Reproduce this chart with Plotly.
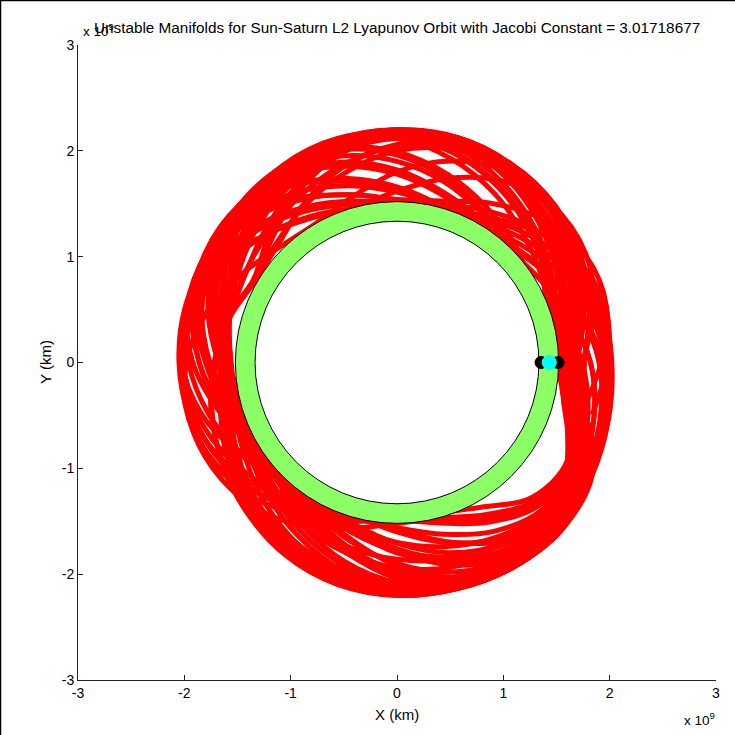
import numpy as np
import plotly.graph_objects as go

# ---------------- data (units of 1e9 km) ----------------
TITLE = "Unstable Manifolds for Sun-Saturn L2 Lyapunov Orbit with Jacobi Constant = 3.01718677"

# polar angle nodes (deg) along each manifold branch, leaving L2 clockwise
THETA_DEG = [0, -15, -30, -45, -60, -75, -90, -105, -120, -135, -150, -165,
             -180, -195, -210, -225, -240, -255, -270, -285, -300, -315,
             -330, -345, -360, -375, -390, -405, -420]

# radius of each manifold trajectory at the nodes above
TRAJ_R = [
    [1.51, 1.63, 1.85, 1.80, 1.58, 1.47, 1.46, 1.52, 1.64, 1.78, 1.90, 1.98, 2.02, 2.00, 1.92, 1.80, 1.66, 1.55, 1.48, 1.47, 1.54, 1.66, 1.80, 1.92, 1.98, 2.03, 2.10, 2.16, 2.19],
    [1.51, 1.65, 1.87, 1.90, 1.74, 1.57, 1.48, 1.47, 1.55, 1.68, 1.82, 1.94, 2.01, 2.04, 2.01, 1.92, 1.78, 1.64, 1.53, 1.47, 1.50, 1.60, 1.74, 1.87, 1.96, 2.02, 2.09, 2.14],
    [1.51, 1.67, 1.90, 1.99, 1.92, 1.76, 1.60, 1.50, 1.48, 1.56, 1.70, 1.84, 1.96, 2.04, 2.07, 2.04, 1.94, 1.80, 1.66, 1.54, 1.46, 1.53, 1.64, 1.78, 1.90, 1.98, 2.06],
    [1.51, 1.69, 1.93, 2.06, 2.04, 1.92, 1.76, 1.61, 1.52, 1.50, 1.58, 1.72, 1.86, 1.98, 2.06, 2.10, 2.06, 1.96, 1.82, 1.67, 1.56, 1.47, 1.56, 1.68, 1.82, 1.92, 2.00, 2.05],
    [1.51, 1.71, 1.96, 2.11, 2.13, 2.05, 1.90, 1.74, 1.60, 1.52, 1.52, 1.62, 1.76, 1.90, 2.01, 2.10, 2.14, 2.10, 1.99, 1.84, 1.69, 1.57, 1.47, 1.57, 1.70, 1.82, 1.92],
    [1.51, 1.73, 1.99, 2.14, 2.19, 2.14, 2.02, 1.86, 1.71, 1.59, 1.53, 1.56, 1.66, 1.80, 1.94, 2.06, 2.14, 2.17, 2.12, 1.99, 1.84, 1.69, 1.58, 1.48, 1.60, 1.72, 1.86],
    [1.51, 1.75, 2.02, 2.17, 2.21, 2.19, 2.11, 1.98, 1.83, 1.69, 1.58, 1.55, 1.59, 1.70, 1.85, 2.00, 2.11, 2.18, 2.19, 2.11, 1.97, 1.82, 1.68, 1.57, 1.54, 1.64],
    [1.51, 1.77, 2.04, 2.18, 2.21, 2.20, 2.16, 2.07, 1.94, 1.80, 1.67, 1.59, 1.57, 1.63, 1.76, 1.91, 2.05, 2.15, 2.20, 2.18, 2.08, 1.94, 1.79, 1.66, 1.57, 1.68, 1.85],
    [1.51, 1.79, 2.06, 2.19, 2.22, 2.21, 2.19, 2.13, 2.02, 1.89, 1.76, 1.65, 1.59, 1.64, 1.56, 1.70, 1.90, 2.08, 2.19, 2.20, 2.14, 2.03, 1.89, 1.75, 1.64, 1.76, 1.88],
    [1.51, 1.83, 2.10, 2.20, 2.22, 2.21, 2.20, 2.16, 2.07, 1.96, 1.84, 1.72, 1.64, 1.63, 1.65, 1.76, 1.91, 2.05, 2.16, 2.20, 2.16, 2.08, 1.96, 1.82, 1.70, 1.80, 1.90, 1.95],
    [1.51, 1.64, 1.86, 1.86, 1.70, 1.55, 1.50, 1.55, 1.68, 1.84, 1.96, 2.02, 2.05, 2.06, 2.04, 1.97, 1.86, 1.73, 1.61, 1.53, 1.48, 1.55, 1.66, 1.80, 1.93, 2.00, 2.07],
    [1.51, 1.68, 1.91, 2.02, 1.98, 1.86, 1.71, 1.58, 1.50, 1.48, 1.54, 1.66, 1.80, 1.93, 2.03, 2.09, 2.09, 2.02, 1.90, 1.76, 1.62, 1.53, 1.48, 1.60, 1.74, 1.86, 1.96],
    [1.51, 1.72, 1.97, 2.12, 2.16, 2.10, 1.97, 1.81, 1.66, 1.55, 1.49, 1.52, 1.60, 1.72, 1.86, 2.00, 2.10, 2.16, 2.14, 2.05, 1.91, 1.76, 1.63, 1.55, 1.55, 1.64],
    [1.51, 1.76, 2.03, 2.17, 2.21, 2.20, 2.14, 2.03, 1.88, 1.74, 1.62, 1.56, 1.56, 1.64, 1.79, 1.95, 2.08, 2.17, 2.20, 2.15, 2.03, 1.88, 1.73, 1.61, 1.55, 1.66, 1.86],
    [1.51, 1.83, 2.10, 2.20, 2.22, 2.21, 2.20, 2.15, 2.05, 1.93, 1.80, 1.69, 1.61, 1.63, 1.55, 1.66, 1.86, 2.04, 2.17, 2.20, 2.15, 2.05, 1.92, 1.78, 1.67, 1.78, 1.90],
    [1.51, 1.70, 1.95, 2.05, 1.95, 1.75, 1.58, 1.52, 1.60, 1.78, 1.95, 2.02, 1.98, 1.85, 1.68, 1.55, 1.52, 1.62, 1.80, 1.97, 2.08, 2.05, 1.92, 1.75, 1.62, 1.74, 1.88],
    [1.51, 1.74, 2.00, 2.15, 2.12, 1.98, 1.78, 1.60, 1.51, 1.56, 1.72, 1.90, 2.02, 2.02, 1.90, 1.72, 1.58, 1.52, 1.62, 1.80, 1.98, 2.08, 2.05, 1.92, 1.76, 1.84, 1.92],
    [1.51, 1.78, 2.05, 2.19, 2.20, 2.10, 1.92, 1.72, 1.57, 1.51, 1.58, 1.74, 1.92, 2.04, 2.06, 1.96, 1.80, 1.64, 1.54, 1.58, 1.74, 1.92, 2.04, 2.04, 1.92, 1.80],
    [1.51, 1.83, 2.12, 2.21, 2.22, 2.18, 2.04, 1.85, 1.67, 1.55, 1.52, 1.62, 1.80, 1.96, 2.06, 2.06, 1.94, 1.77, 1.62, 1.54, 1.60, 1.78, 1.95, 2.03, 1.98, 1.90],
    [1.51, 1.66, 1.88, 1.96, 1.96, 1.92, 1.86, 1.80, 1.74, 1.68, 1.63, 1.60, 1.60, 1.64, 1.72, 1.84, 1.96, 2.06, 2.12, 2.12, 2.06, 1.96, 1.84, 1.72, 1.62, 1.70, 1.86],
    [1.51, 1.70, 1.94, 2.06, 2.10, 2.10, 2.07, 2.02, 1.95, 1.87, 1.79, 1.72, 1.66, 1.64, 1.66, 1.72, 1.82, 1.94, 2.04, 2.10, 2.10, 2.04, 1.94, 1.82, 1.70, 1.76, 1.88],
    [1.51, 1.74, 2.00, 2.13, 2.18, 2.19, 2.17, 2.12, 2.05, 1.97, 1.89, 1.81, 1.72, 1.64, 1.55, 1.60, 1.72, 1.86, 2.00, 2.08, 2.10, 2.06, 1.98, 1.87, 1.76, 1.80, 1.88],
    [1.51, 1.67, 1.90, 1.97, 1.90, 1.80, 1.70, 1.61, 1.55, 1.52, 1.54, 1.60, 1.68, 1.78, 1.90, 2.02, 2.12, 2.17, 2.15, 2.06, 1.92, 1.78, 1.66, 1.58, 1.54, 1.63],
    [1.51, 1.69, 1.92, 2.02, 1.99, 1.90, 1.78, 1.66, 1.56, 1.49, 1.46, 1.50, 1.58, 1.68, 1.80, 1.94, 2.06, 2.15, 2.20, 2.16, 2.05, 1.90, 1.76, 1.64, 1.56, 1.65, 1.86],
    [1.51, 1.64, 1.86, 1.84, 1.66, 1.52, 1.52, 1.62, 1.78, 1.92, 2.00, 2.03, 2.02, 1.96, 1.85, 1.72, 1.60, 1.51, 1.48, 1.54, 1.66, 1.80, 1.92, 2.00, 2.02, 2.06, 2.12, 2.18],
    [1.51, 1.72, 1.98, 2.14, 2.18, 2.12, 1.98, 1.80, 1.63, 1.52, 1.50, 1.56, 1.68, 1.84, 1.98, 2.08, 2.12, 2.08, 1.96, 1.80, 1.64, 1.52, 1.47, 1.52, 1.64, 1.76, 1.88],
    [1.51, 1.80, 2.07, 2.20, 2.22, 2.20, 2.17, 2.10, 1.99, 1.86, 1.73, 1.63, 1.58, 1.64, 1.74, 1.88, 2.02, 2.13, 2.19, 2.18, 2.10, 1.98, 1.84, 1.70, 1.60, 1.70, 1.86],
    [1.51, 1.66, 1.89, 1.95, 1.84, 1.68, 1.56, 1.52, 1.58, 1.72, 1.88, 1.99, 2.04, 2.03, 1.96, 1.84, 1.70, 1.58, 1.50, 1.50, 1.58, 1.72, 1.86, 1.96, 2.00, 2.04, 2.11],
    [1.51, 1.75, 2.01, 2.16, 2.20, 2.17, 2.08, 1.94, 1.78, 1.64, 1.55, 1.54, 1.62, 1.76, 1.92, 2.06, 2.15, 2.19, 2.16, 2.06, 1.92, 1.76, 1.62, 1.53, 1.56, 1.66],
    [1.51, 1.68, 1.92, 2.03, 2.04, 2.00, 1.94, 1.86, 1.78, 1.70, 1.64, 1.60, 1.60, 1.65, 1.74, 1.86, 1.98, 2.08, 2.14, 2.14, 2.08, 1.98, 1.86, 1.74, 1.64, 1.72, 1.86],
    [1.51, 1.82, 2.08, 2.21, 2.22, 2.21, 2.20, 2.17, 2.10, 2.00, 1.90, 1.80, 1.70, 1.63, 1.54, 1.58, 1.74, 1.92, 2.06, 2.15, 2.16, 2.10, 2.00, 1.88, 1.76, 1.82, 1.92],
    [1.51, 1.70, 1.94, 2.08, 2.08, 1.96, 1.80, 1.64, 1.53, 1.50, 1.56, 1.70, 1.86, 2.00, 2.08, 2.10, 2.04, 1.92, 1.78, 1.64, 1.54, 1.50, 1.56, 1.68, 1.82, 1.92, 2.02],
]

# Saturn orbit band (inner / outer radius)
BAND_R_INNER = 1.335
BAND_R_OUTER = 1.52

# L1 / L2 points and Saturn
LAGRANGE_X = [1.355, 1.515]
LAGRANGE_Y = [0.0, 0.0]
SATURN_X = [1.432]
SATURN_Y = [0.0]

X_TICKS = [-3, -2, -1, 0, 1, 2, 3]
Y_TICKS = [-3, -2, -1, 0, 1, 2, 3]

FONT = "Liberation Sans, Arial, sans-serif"

# ---------------- figure ----------------
fig = go.Figure()

for r in TRAJ_R:
    th = np.radians(np.array(THETA_DEG[:len(r)], dtype=float))
    rr = np.array(r)
    fig.add_trace(go.Scatter(
        x=rr * np.cos(th), y=rr * np.sin(th), mode="lines",
        line=dict(color="#ff0000", width=5, shape="spline", smoothing=1.0),
        hoverinfo="skip", showlegend=False))

shapes = [
    dict(type="circle", xref="x", yref="y", layer="above",
         x0=-BAND_R_OUTER, x1=BAND_R_OUTER, y0=-BAND_R_OUTER, y1=BAND_R_OUTER,
         fillcolor="#8cff66", line=dict(color="black", width=1)),
    dict(type="circle", xref="x", yref="y", layer="above",
         x0=-BAND_R_INNER, x1=BAND_R_INNER, y0=-BAND_R_INNER, y1=BAND_R_INNER,
         fillcolor="white", line=dict(color="black", width=1)),
]
for lx, ly in zip(LAGRANGE_X, LAGRANGE_Y):
    shapes.append(dict(type="circle", xref="x", yref="y", layer="above",
                       xsizemode="pixel", ysizemode="pixel", xanchor=lx, yanchor=ly,
                       x0=-6.5, x1=6.5, y0=-6.5, y1=6.5,
                       fillcolor="black", line=dict(width=0)))
for sx, sy in zip(SATURN_X, SATURN_Y):
    shapes.append(dict(type="circle", xref="x", yref="y", layer="above",
                       xsizemode="pixel", ysizemode="pixel", xanchor=sx, yanchor=sy,
                       x0=-7.5, x1=7.5, y0=-7.5, y1=7.5,
                       fillcolor="#00ffff", line=dict(width=0)))
# figure frame (top and left edges)
shapes.append(dict(type="line", xref="paper", yref="paper",
                   x0=-78/638, x1=(735-78)/638, y0=(680-0.5)/635, y1=(680-0.5)/635,
                   line=dict(color="black", width=1.5)))
shapes.append(dict(type="line", xref="paper", yref="paper",
                   x0=(0.5-78)/638, x1=(0.5-78)/638, y0=(680-735)/635, y1=680/635,
                   line=dict(color="black", width=1.5)))

def px_x(p):
    return (p - 78) / 638

def px_y(p):
    return (680 - p) / 635

annotations = [
    dict(text=TITLE, xref="paper", yref="paper", x=px_x(397), y=px_y(28),
         xanchor="center", yanchor="middle", showarrow=False,
         font=dict(family=FONT, size=15.3, color="black")),
    dict(text="x 10<sup>9</sup>", xref="paper", yref="paper", x=px_x(81), y=px_y(30),
         xanchor="left", yanchor="middle", showarrow=False,
         font=dict(family=FONT, size=13.5, color="black")),
    dict(text="x 10<sup>9</sup>", xref="paper", yref="paper", x=px_x(717), y=px_y(719),
         xanchor="right", yanchor="middle", showarrow=False,
         font=dict(family=FONT, size=13.5, color="black")),
    dict(text="X (km)", xref="paper", yref="paper", x=px_x(397), y=px_y(714),
         xanchor="center", yanchor="middle", showarrow=False,
         font=dict(family=FONT, size=15, color="black")),
    dict(text="Y (km)", xref="paper", yref="paper", x=px_x(45), y=px_y(362),
         xanchor="center", yanchor="middle", showarrow=False, textangle=-90,
         font=dict(family=FONT, size=15, color="black")),
]

axis_common = dict(range=[-3, 3], showgrid=False, zeroline=False,
                   showline=True, linecolor="#222", linewidth=1,
                   ticks="inside", ticklen=5, tickcolor="#222",
                   tickfont=dict(family=FONT, size=14, color="black"),
                   mirror=False, fixedrange=True)

fig.update_layout(
    width=735, height=735,
    margin=dict(l=78, r=19, t=45, b=55, pad=0),
    paper_bgcolor="white", plot_bgcolor="white",
    xaxis=dict(tickvals=X_TICKS, ticktext=[str(v) for v in X_TICKS], **axis_common),
    yaxis=dict(tickvals=Y_TICKS, ticktext=[str(v) for v in Y_TICKS], **axis_common),
    shapes=shapes, annotations=annotations, showlegend=False,
)

fig.write_html("out.html", config={"displayModeBar": False},
               post_script="document.body.style.margin='0px';")
